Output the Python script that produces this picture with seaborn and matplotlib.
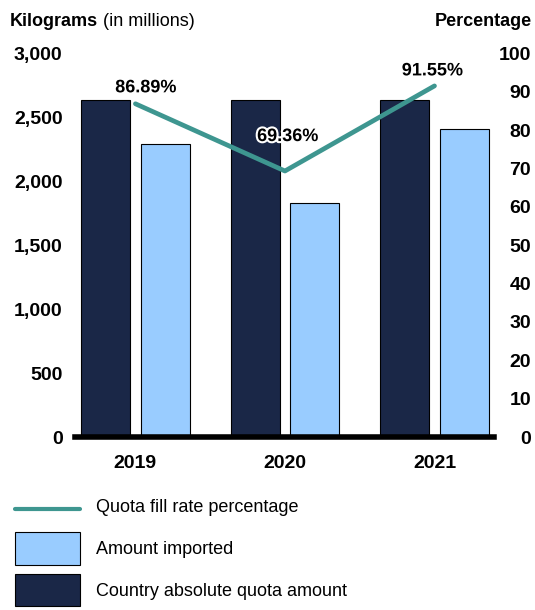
import numpy as np
import pandas as pd
import matplotlib
matplotlib.use("Agg")
import matplotlib.pyplot as plt
import matplotlib.patheffects as pe
from matplotlib.lines import Line2D
from matplotlib.patches import Patch
from matplotlib.legend_handler import HandlerLine2D
import seaborn as sns

# Data (kilograms in millions, fill rate in percent)
years = ["2019", "2020", "2021"]
quota_amount = [2636, 2636, 2636]
amount_imported = [2290, 1828, 2413]
fill_rate = [86.89, 69.36, 91.55]

left_ticks = [0, 500, 1000, 1500, 2000, 2500, 3000]
right_ticks = [0, 10, 20, 30, 40, 50, 60, 70, 80, 90, 100]

series_quota = "Country absolute quota amount"
series_imported = "Amount imported"
series_rate = "Quota fill rate percentage"

DARK = "#1a2747"
LIGHT = "#99ccff"
TEAL = "#3e9690"

sns.set_theme(style="white")
plt.rcParams["font.family"] = ["Liberation Sans", "DejaVu Sans"]
plt.rcParams["text.color"] = "black"
plt.rcParams["axes.labelcolor"] = "black"
plt.rcParams["xtick.color"] = "black"
plt.rcParams["ytick.color"] = "black"

df = pd.DataFrame({
    "year": years * 2,
    "series": [series_quota] * len(years) + [series_imported] * len(years),
    "value": quota_amount + amount_imported,
})

fig = plt.figure(figsize=(5.35, 6.10), dpi=100)
ax = fig.add_axes([75 / 535, 1 - 437 / 610, 419 / 535, 383.5 / 610])

sns.barplot(
    data=df, x="year", y="value", hue="series",
    hue_order=[series_quota, series_imported],
    palette=[DARK, LIGHT], saturation=1, width=0.8, gap=0.18,
    edgecolor="black", linewidth=0.8, legend=False, ax=ax,
)
ax.set_xlim(-0.404, 2.398)
ax.set_ylim(0, 3000)
ax.set_yticks(left_ticks)
ax.set_yticklabels([f"{v:,}" for v in left_ticks], fontsize=14, fontweight="bold")
ax.set_xticks(range(len(years)))
ax.set_xticklabels(years, fontsize=14, fontweight="bold")
ax.set_xlabel("")
ax.set_ylabel("")
ax.tick_params(axis="y", length=0, pad=8.9, colors="black")
ax.tick_params(axis="x", length=0, pad=12.6, colors="black")
for side in ["left", "right", "top"]:
    ax.spines[side].set_visible(False)
ax.spines["bottom"].set_color("black")
ax.spines["bottom"].set_linewidth(4.0)
ax.spines["bottom"].set_zorder(5)

# Fill-rate line on the secondary axis
ax2 = ax.twinx()
sns.lineplot(x=np.arange(len(years)), y=fill_rate, ax=ax2, color=TEAL,
             linewidth=3.4, legend=False)
ax2.set_ylim(0, 100)
ax2.set_yticks(right_ticks)
ax2.set_yticklabels([str(v) for v in right_ticks], fontsize=14, fontweight="bold")
ax2.tick_params(axis="y", length=0, pad=26.6, colors="black")
for lab in ax2.get_yticklabels():
    lab.set_horizontalalignment("right")
for side in ["left", "right", "top", "bottom"]:
    ax2.spines[side].set_visible(False)
ax2.set_ylabel("")

label_offsets = [(7.5, 11.5), (2.0, 24.8), (-1.5, 10.8)]
for i, (r, off) in enumerate(zip(fill_rate, label_offsets)):
    ax2.annotate(f"{r:.2f}%", xy=(i, r), xytext=off, textcoords="offset points",
                 ha="center", va="center", fontsize=13, fontweight="bold",
                 color="black",
                 path_effects=[pe.withStroke(linewidth=3, foreground="white")])

# Axis titles
t = fig.text(10 / 535, 1 - 26 / 610, "Kilograms", fontsize=13, fontweight="bold",
             ha="left", va="baseline")
fig.canvas.draw()
ax.annotate("(in millions)", xy=(1, 0), xycoords=t, xytext=(3.6, 0),
            textcoords="offset points", fontsize=13, ha="left", va="bottom",
            annotation_clip=False)
fig.text(532 / 535, 1 - 26 / 610, "Percentage", fontsize=13, fontweight="bold",
         ha="right", va="baseline")


class CenteredLineHandler(HandlerLine2D):
    """Draw the legend line through the middle of the handle box."""

    def create_artists(self, legend, orig_handle, xdescent, ydescent,
                       width, height, fontsize, trans):
        artists = super().create_artists(legend, orig_handle, xdescent, ydescent,
                                         width, height, fontsize, trans)
        for a in artists:
            if isinstance(a, Line2D):
                y = np.asarray(a.get_ydata(), dtype=float)
                a.set_ydata(np.full_like(y, height / 2 - ydescent - 1.5))
        return artists


# Legend
line_handle = Line2D([0], [0], color=TEAL, linewidth=3.0)
handles = [
    line_handle,
    Patch(facecolor=LIGHT, edgecolor="black", linewidth=0.8),
    Patch(facecolor=DARK, edgecolor="black", linewidth=0.8),
]
labels = [series_rate, series_imported, series_quota]
fig.legend(handles, labels, loc="upper left",
           bbox_to_anchor=(15 / 535, 1 - 490.5 / 610),
           frameon=False, fontsize=13, handlelength=3.6, handleheight=2.4,
           labelspacing=0.5, handletextpad=0.9, borderpad=0, borderaxespad=0,
           handler_map={line_handle: CenteredLineHandler()})

fig.savefig("out.png", dpi=100)
